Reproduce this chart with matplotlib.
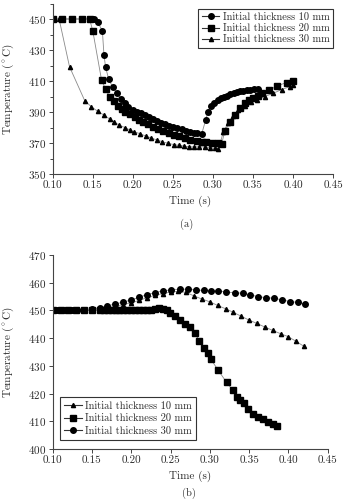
import matplotlib
matplotlib.use("Agg")
import matplotlib.pyplot as plt
from matplotlib.ticker import MultipleLocator

plt.rcParams['font.family'] = ['cmr10', 'DejaVu Serif']
plt.rcParams['axes.formatter.use_mathtext'] = True
plt.rcParams['mathtext.fontset'] = 'cm'

# ---------------- Panel (a) data ----------------
a_t10 = [0.100, 0.112, 0.124, 0.136, 0.146, 0.152, 0.156, 0.162, 0.164, 0.166, 0.170, 0.175, 0.180, 0.185,
         0.190, 0.194, 0.200, 0.205, 0.210, 0.215, 0.220, 0.225, 0.230, 0.235, 0.240, 0.245, 0.250, 0.255,
         0.261, 0.266, 0.271, 0.276, 0.280, 0.286, 0.291, 0.294, 0.298, 0.302, 0.306, 0.310, 0.314, 0.318,
         0.322, 0.326, 0.330, 0.334, 0.338, 0.342, 0.346, 0.351, 0.356]
a_T10 = [450, 450, 450, 450, 450, 450, 448, 442.5, 427, 419, 411, 406, 402.5, 398.5,
         395.6, 393, 391.5, 390.2, 389.2, 387.8, 386.5, 385.3, 384.2, 383.2, 382.2, 381.2, 380.1, 379.4,
         378.8, 378, 377.3, 376.7, 376.2, 375.8, 384.8, 390.2, 394, 396, 397.5, 398.8, 399.8, 400.6,
         401.4, 402.1, 402.8, 403.3, 403.8, 404.2, 404.5, 404.6, 404.6]

a_t20 = [0.100, 0.112, 0.124, 0.136, 0.146, 0.150, 0.161, 0.166, 0.171, 0.176, 0.181, 0.186, 0.190, 0.196,
         0.203, 0.208, 0.213, 0.219, 0.225, 0.231, 0.238, 0.245, 0.252, 0.258, 0.265, 0.272, 0.280, 0.286,
         0.292, 0.299, 0.306, 0.311, 0.315, 0.321, 0.3275, 0.334, 0.340, 0.345, 0.350, 0.356, 0.361, 0.370,
         0.380, 0.392, 0.400]
a_T20 = [450, 450, 450, 450, 450, 442.5, 410.6, 404.6, 400, 397, 394, 391.8, 390, 388.5,
         386.5, 384.8, 383.5, 382, 380.5, 379, 377.7, 376.3, 375.2, 374.2, 373, 372, 371, 370.6,
         370.5, 370.3, 370.2, 369.6, 377.7, 383.7, 388, 392.3, 395.6, 397.5, 398.8, 400.5, 402, 404,
         406.8, 409, 410]

a_t30 = [0.108, 0.121, 0.140, 0.148, 0.156, 0.164, 0.171, 0.177, 0.183, 0.190, 0.196, 0.202, 0.209, 0.216,
         0.223, 0.230, 0.237, 0.244, 0.251, 0.258, 0.264, 0.270, 0.276, 0.283, 0.290, 0.297, 0.303, 0.307,
         0.313, 0.319, 0.325, 0.332, 0.340, 0.348, 0.355, 0.365, 0.375, 0.386, 0.396, 0.400]
a_T30 = [450, 419.2, 397.3, 393.5, 390.5, 388, 385.5, 383.5, 381.5, 380, 378.5, 377.2, 376, 374.5,
         373.2, 372, 370.8, 369.8, 369, 368.5, 368, 367.6, 367.5, 367.6, 367.4, 367, 366.5, 366,
         377, 383, 387.5, 391.5, 394, 396.2, 397.7, 400, 402, 404.5, 406.3, 407.4]

# ---------------- Panel (b) data ----------------
b_t10 = [0.100, 0.110, 0.120, 0.130, 0.140, 0.150, 0.160, 0.170, 0.180, 0.190, 0.200, 0.210, 0.220, 0.230,
         0.240, 0.250, 0.260, 0.270, 0.280, 0.290, 0.300, 0.310, 0.320, 0.330, 0.340, 0.350, 0.360, 0.370,
         0.380, 0.390, 0.400, 0.410, 0.420]
b_T10 = [450, 450, 450, 450, 450, 450.1, 450.4, 450.9, 451.5, 452.1, 452.8, 453.6, 454.6, 455.4,
         456.1, 456.6, 456.9, 456.5, 455.2, 454.1, 453.1, 451.8, 450.6, 449.3, 447.9, 446.5, 445.3, 444.0,
         442.8, 441.6, 440.5, 438.8, 437.0]

b_t20 = [0.100, 0.110, 0.120, 0.130, 0.140, 0.150, 0.160, 0.165, 0.170, 0.175, 0.180, 0.185, 0.190, 0.195,
         0.200, 0.205, 0.210, 0.215, 0.220, 0.225, 0.230, 0.235, 0.240, 0.245, 0.249, 0.2556, 0.262, 0.268,
         0.2747, 0.281, 0.2865, 0.2925, 0.298, 0.301, 0.3107, 0.3214, 0.329, 0.3349, 0.339, 0.3434, 0.3488,
         0.355, 0.3616, 0.368, 0.374, 0.3807, 0.3858]
b_T20 = [450, 450, 450, 450, 450, 450, 450, 450, 450, 450, 450, 450, 450, 450,
         450, 450, 450, 450, 450.1, 450.3, 450.6, 450.8, 450.6, 450.2, 449.2, 448, 446.7, 445.2,
         444, 441.8, 439, 436.5, 434.5, 432.5, 428.4, 424, 421.3, 418.9, 417.6, 416.7, 414.5,
         412.8, 411.6, 410.7, 409.9, 409, 408.4]

b_t30 = [0.100, 0.106, 0.112, 0.118, 0.124, 0.131, 0.139, 0.150, 0.160, 0.1695, 0.179, 0.190, 0.1996, 0.210,
         0.2195, 0.230, 0.2407, 0.251, 0.262, 0.2725, 0.283, 0.292, 0.301, 0.311, 0.321, 0.332, 0.3417,
         0.351, 0.3616, 0.371, 0.3816, 0.392, 0.402, 0.4117, 0.421]
b_T30 = [450, 450, 450, 450, 450.2, 450.2, 450.3, 450.5, 450.8, 451.6, 452.3, 453, 453.8, 454.7,
         455.7, 456.4, 457.1, 457.4, 457.7, 457.6, 457.4, 457.2, 457.1, 457.1, 456.6, 456.4, 456.2,
         455.6, 455, 454.6, 454.4, 453.8, 453.2, 452.9, 452.3]

labels = ["Initial thickness 10 mm", "Initial thickness 20 mm", "Initial thickness 30 mm"]
xticks = [0.10, 0.15, 0.20, 0.25, 0.30, 0.35, 0.40, 0.45]
ylabel = r"Temperature ($^\circ$C)"

W, H = 344, 499
fig = plt.figure(figsize=(W / 100, H / 100), dpi=100)

TXT = '#2a2a2a'
LINE = '#8a8a8a'
SP = '#444444'


def ax_rect(l, r, t, b):
    return [l / W, 1 - b / H, (r - l) / W, (b - t) / H]


def style(ax):
    for s in ['top', 'right']:
        ax.spines[s].set_visible(False)
    for s in ['left', 'bottom']:
        ax.spines[s].set_color(SP)
        ax.spines[s].set_linewidth(0.8)
    ax.tick_params(axis='both', which='both', direction='out', colors=SP, labelcolor=TXT,
                   labelsize=8, width=0.7)
    ax.tick_params(which='major', length=3)
    ax.tick_params(which='minor', length=2)
    ax.set_xlim(0.10, 0.45)
    ax.set_xticks(xticks)
    ax.set_xticklabels(["%.2f" % v for v in xticks])
    ax.tick_params(axis='x', pad=2)
    ax.tick_params(axis='y', pad=2)


def plot_series(ax, t, T, marker, ms):
    ax.plot(t, T, color=LINE, lw=0.6, zorder=1)
    ax.plot(t, T, linestyle='none', marker=marker, ms=ms, color='black', mec='black', zorder=2)


CS, SS, TS = 4.0, 3.9, 3.0

# ----- Panel (a)
ax1 = fig.add_axes(ax_rect(52.7, 333, 3.5, 174))
style(ax1)
ax1.set_ylim(350, 460)
ax1.set_yticks([350, 370, 390, 410, 430, 450])
ax1.yaxis.set_minor_locator(MultipleLocator(10))
plot_series(ax1, a_t10, a_T10, 'o', CS)
plot_series(ax1, a_t20, a_T20, 's', SS)
plot_series(ax1, a_t30, a_T30, '^', TS)
h1 = [plt.Line2D([], [], color='#333333', lw=0.8, marker=m, ms=s, mfc='black', mec='black')
      for m, s in [('o', CS), ('s', SS), ('^', TS)]]
leg1 = ax1.legend(h1, labels, loc='upper right', bbox_to_anchor=(1.0, 0.968), fontsize=7.5,
                  frameon=True, fancybox=False, framealpha=1, edgecolor='#333333',
                  handlelength=1.7, handletextpad=0.3, labelspacing=0.15, borderpad=0.35,
                  borderaxespad=0)
leg1.get_frame().set_linewidth(0.8)
for txt in leg1.get_texts():
    txt.set_color(TXT)
ax1.set_xlabel("Time (s)", fontsize=8, color=TXT, va='center')
ax1.xaxis.set_label_coords(0.49, -(201 - 174) / 170.5)
ax1.set_ylabel(ylabel, fontsize=8, color=TXT, va='center')
ax1.yaxis.set_label_coords(-(52.7 - 8) / 280.3, 0.5)
fig.text(187 / W, 1 - 224 / H, "(a)", fontsize=7.5, color=TXT, ha='center', va='center')

# ----- Panel (b)
ax2 = fig.add_axes(ax_rect(52.7, 327.7, 255, 449))
style(ax2)
ax2.set_ylim(400, 470)
ax2.set_yticks([400, 410, 420, 430, 440, 450, 460, 470])
plot_series(ax2, b_t10, b_T10, '^', TS)
plot_series(ax2, b_t20, b_T20, 's', SS)
plot_series(ax2, b_t30, b_T30, 'o', CS)
h2 = [plt.Line2D([], [], color='#333333', lw=0.8, marker=m, ms=s, mfc='black', mec='black')
      for m, s in [('^', TS), ('s', SS), ('o', CS)]]
leg2 = ax2.legend(h2, labels, loc='lower left', bbox_to_anchor=(0.0265, 0.046), fontsize=7.5,
                  frameon=True, fancybox=False, framealpha=1, edgecolor='#333333',
                  handlelength=1.7, handletextpad=0.3, labelspacing=0.3, borderpad=0.4,
                  borderaxespad=0)
leg2.get_frame().set_linewidth(0.8)
for txt in leg2.get_texts():
    txt.set_color(TXT)
ax2.set_xlabel("Time (s)", fontsize=8, color=TXT, va='center')
ax2.xaxis.set_label_coords(0.5, -(476 - 449) / 194)
ax2.set_ylabel(ylabel, fontsize=8, color=TXT, va='center')
ax2.yaxis.set_label_coords(-(52.7 - 8) / 275, 0.5)
fig.text(189 / W, 1 - 493 / H, "(b)", fontsize=7.5, color=TXT, ha='center', va='center')

fig.savefig("out.png", dpi=100)
